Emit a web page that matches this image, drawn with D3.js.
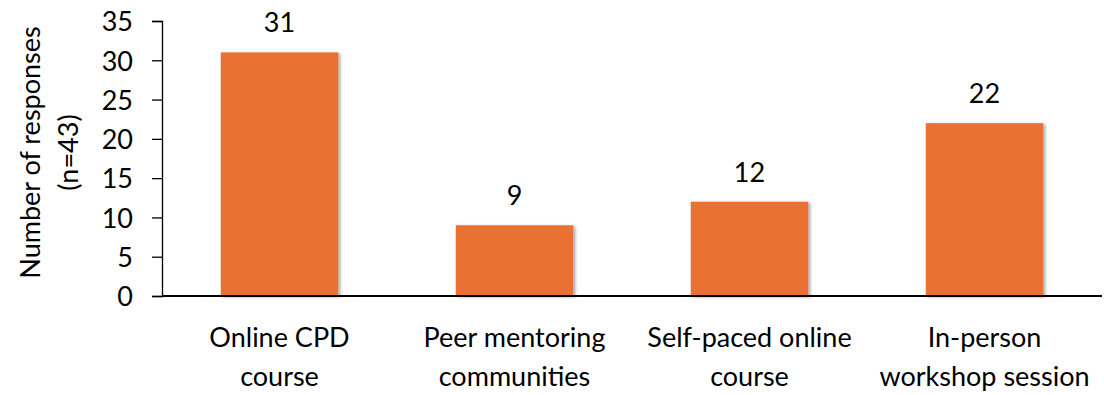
<!DOCTYPE html>
<html>
<head>
<meta charset="utf-8">
<script src="https://cdn.jsdelivr.net/npm/d3@7"></script>
<style>
  body { margin: 0; background: #fff; }
  text { font-family: Lato, "Open Sans", sans-serif; fill: #000; }
</style>
</head>
<body>
<div class="graph"></div>
<script>
var categories = [
  ["Online CPD", "course"],
  ["Peer mentoring", "communities"],
  ["Self-paced online", "course"],
  ["In-person", "workshop session"]
];
var values = [31, 9, 12, 22];
var yTicks = [0, 5, 10, 15, 20, 25, 30, 35];
var yTitle = ["Number of responses", "(n=43)"];

var W = 1104, H = 395;
var fs = "27px";
var margin = {top: 21, right: 2, bottom: 99, left: 162},
    width = W - margin.left - margin.right,
    height = H - margin.top - margin.bottom;

var x = d3.scaleBand()
    .domain(d3.range(values.length))
    .range([0, width])
    .paddingInner(0.5)
    .paddingOuter(0.25);

var y = d3.scaleLinear()
    .domain([0, 35])
    .range([height, 0]);

var svg = d3.select(".graph").append("svg")
    .attr("width", W)
    .attr("height", H)
  .append("g")
    .attr("transform", "translate(" + margin.left + "," + margin.top + ")");

var defs = svg.append("defs");
var f = defs.append("filter").attr("id", "shadow")
    .attr("x", "-10%").attr("y", "-10%").attr("width", "130%").attr("height", "120%");
f.append("feDropShadow").attr("dx", 2).attr("dy", 1).attr("stdDeviation", 1.5)
    .attr("flood-color", "#000").attr("flood-opacity", 0.35);

// y axis
var yAxis = svg.append("g")
    .attr("class", "y axis")
    .call(d3.axisLeft(y).tickValues(yTicks).tickSize(10).tickPadding(19).tickSizeOuter(10));
yAxis.select(".domain").attr("stroke", "#000").attr("stroke-width", 1.3);
yAxis.selectAll(".tick line").attr("stroke", "#000").attr("stroke-width", 1.3);
yAxis.selectAll(".tick text")
    .style("font-size", fs)
    .style("font-family", "Lato, sans-serif")
    .attr("fill", "#000")
    .attr("dy", "0.36em");

// bars
svg.selectAll(".bar")
    .data(values)
  .enter().append("rect")
    .attr("class", "bar")
    .attr("x", function(d, i) { return x(i); })
    .attr("y", function(d) { return y(d); })
    .attr("width", x.bandwidth())
    .attr("height", function(d) { return height - y(d); })
    .attr("fill", "#E97132")
    .attr("filter", "url(#shadow)");

// x axis line
svg.append("line")
    .attr("x1", 0).attr("x2", width)
    .attr("y1", height).attr("y2", height)
    .attr("stroke", "#000").attr("stroke-width", 2.2);

// value labels
svg.selectAll(".val")
    .data(values)
  .enter().append("text")
    .attr("class", "val")
    .attr("x", function(d, i) { return x(i) + x.bandwidth() / 2; })
    .attr("y", function(d) { return y(d) - 20; })
    .attr("text-anchor", "middle")
    .style("font-size", fs)
    .text(function(d) { return d; });

// category labels
var cat = svg.selectAll(".cat")
    .data(categories)
  .enter().append("text")
    .attr("class", "cat")
    .attr("text-anchor", "middle")
    .style("font-size", fs)
    .attr("transform", function(d, i) {
      return "translate(" + (x(i) + x.bandwidth() / 2) + "," + (height + 51) + ")";
    });
cat.selectAll("tspan")
    .data(function(d) { return d; })
  .enter().append("tspan")
    .attr("x", 0)
    .attr("dy", function(d, i) { return i === 0 ? 0 : 39; })
    .text(function(d) { return d; });

// y title
var title = svg.append("text")
    .attr("text-anchor", "middle")
    .style("font-size", fs)
    .attr("transform", "translate(" + (40 - margin.left) + "," + (height / 2 - 6) + ") rotate(-90)");
title.selectAll("tspan")
    .data(yTitle)
  .enter().append("tspan")
    .attr("x", 0)
    .attr("dy", function(d, i) { return i === 0 ? 0 : 38; })
    .text(function(d) { return d; });
</script>
</body>
</html>
